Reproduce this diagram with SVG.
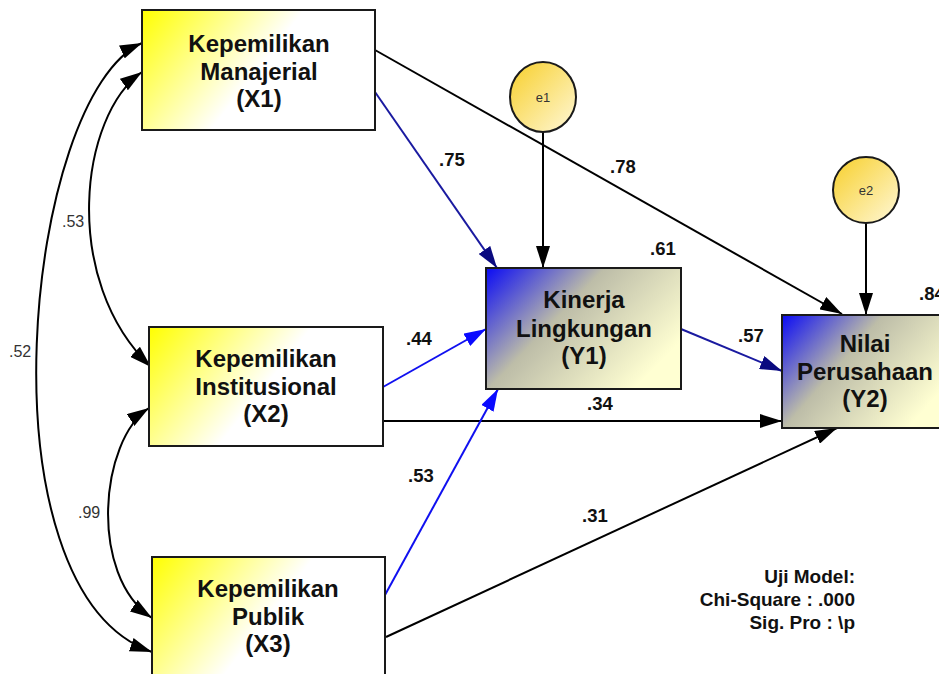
<svg xmlns="http://www.w3.org/2000/svg" width="939" height="674" viewBox="0 0 939 674">
<defs>
<linearGradient id="gx" x1="0" y1="0" x2="1" y2="0.4">
<stop offset="0" stop-color="#FFFF00"/>
<stop offset="0.6" stop-color="#FFFFFF"/>
</linearGradient>
<linearGradient id="gy" x1="0" y1="0" x2="1" y2="0.6">
<stop offset="0" stop-color="#0A0AF5"/>
<stop offset="0.45" stop-color="#BDBDA8"/>
<stop offset="1" stop-color="#FFFFD2"/>
</linearGradient>
<linearGradient id="ge" x1="0" y1="0" x2="1" y2="1">
<stop offset="0" stop-color="#F7CF2A"/>
<stop offset="1" stop-color="#FFF8D8"/>
</linearGradient>
<marker id="ab" viewBox="0 0 22 14" refX="22" refY="7" markerWidth="22" markerHeight="14" markerUnits="userSpaceOnUse" orient="auto-start-reverse">
<path d="M0,0 L22,7 L0,14 z" fill="#000"/>
</marker>
<marker id="au" viewBox="0 0 22 14" refX="22" refY="7" markerWidth="22" markerHeight="14" markerUnits="userSpaceOnUse" orient="auto">
<path d="M0,0 L22,7 L0,14 z" fill="#0A0AFF"/>
</marker>
<marker id="an" viewBox="0 0 22 14" refX="22" refY="7" markerWidth="22" markerHeight="14" markerUnits="userSpaceOnUse" orient="auto">
<path d="M0,0 L22,7 L0,14 z" fill="#0A0A80"/>
</marker>
</defs>
<style>
.box{stroke:#1a1a1a;stroke-width:2}
.t{font-family:"Liberation Sans",Arial,sans-serif;font-weight:bold;font-size:24px;fill:#111;text-anchor:middle}
.l{font-family:"Liberation Sans",Arial,sans-serif;font-weight:bold;font-size:18.5px;fill:#111}
.c{font-family:"Liberation Sans",Arial,sans-serif;font-size:16px;fill:#333}
.e{font-family:"Liberation Sans",Arial,sans-serif;font-size:13px;fill:#333;text-anchor:middle}
.k{fill:none;stroke:#000;stroke-width:2}
.bl{fill:none;stroke:#1010F0;stroke-width:2}
.nv{fill:none;stroke:#1A1AA0;stroke-width:2}
.m{font-family:"Liberation Sans",Arial,sans-serif;font-weight:bold;font-size:19px;fill:#111;text-anchor:end}
</style>

<g id="connectors">
<path class="k" d="M142,72 C80,115 60,280 151,367" marker-start="url(#ab)" marker-end="url(#ab)"/>
<path class="k" d="M142,43 C25,95 -25,590 152,652" marker-start="url(#ab)" marker-end="url(#ab)"/>
<path class="k" d="M149,408 C100,440 88,575 152,618" marker-start="url(#ab)" marker-end="url(#ab)"/>
<line class="k" x1="375" y1="50" x2="842" y2="314" marker-end="url(#ab)"/>
<line class="nv" x1="375" y1="92" x2="497" y2="268" marker-end="url(#an)"/>
<line class="k" x1="543" y1="132" x2="543" y2="268" marker-end="url(#ab)"/>
<line class="k" x1="866" y1="223" x2="866" y2="315" marker-end="url(#ab)"/>
<line class="bl" x1="383" y1="387" x2="486" y2="329" marker-end="url(#au)"/>
<line class="k" x1="383" y1="421" x2="782" y2="421" marker-end="url(#ab)"/>
<line class="bl" x1="385" y1="595" x2="498" y2="389" marker-end="url(#au)"/>
<line class="k" x1="386" y1="637" x2="837" y2="428" marker-end="url(#ab)"/>
<line class="nv" x1="681" y1="329" x2="782" y2="371" marker-end="url(#an)"/>
</g>

<g id="labels">
<text class="c" x="62" y="227">.53</text>
<text class="c" x="9" y="357">.52</text>
<text class="c" x="78" y="518">.99</text>
<text class="l" x="439" y="166">.75</text>
<text class="l" x="610" y="173">.78</text>
<text class="l" x="650" y="255">.61</text>
<text class="l" x="919" y="300">.84</text>
<text class="l" x="406" y="345">.44</text>
<text class="l" x="587" y="410">.34</text>
<text class="l" x="408" y="482">.53</text>
<text class="l" x="738" y="342">.57</text>
<text class="l" x="582" y="522">.31</text>
</g>

<g id="X1">
<rect class="box" x="142" y="10" width="233" height="120" fill="url(#gx)"/>
<text class="t" x="259" y="52">Kepemilikan</text>
<text class="t" x="259" y="80">Manajerial</text>
<text class="t" x="259" y="107">(X1)</text>
</g>
<g id="X2">
<rect class="box" x="149" y="327" width="234" height="119" fill="url(#gx)"/>
<text class="t" x="266" y="367">Kepemilikan</text>
<text class="t" x="266" y="395">Institusional</text>
<text class="t" x="266" y="422">(X2)</text>
</g>
<g id="X3">
<rect class="box" x="152" y="557" width="233" height="122" fill="url(#gx)"/>
<text class="t" x="268" y="597">Kepemilikan</text>
<text class="t" x="268" y="625">Publik</text>
<text class="t" x="268" y="652">(X3)</text>
</g>
<g id="Y1">
<rect class="box" x="486" y="268" width="195" height="121" fill="url(#gy)"/>
<text class="t" x="584" y="308">Kinerja</text>
<text class="t" x="584" y="337">Lingkungan</text>
<text class="t" x="584" y="364">(Y1)</text>
</g>
<g id="Y2">
<rect class="box" x="782" y="315" width="166" height="113" fill="url(#gy)"/>
<text class="t" x="865" y="352">Nilai</text>
<text class="t" x="865" y="380">Perusahaan</text>
<text class="t" x="865" y="407">(Y2)</text>
</g>
<g id="e1">
<ellipse class="box" cx="543" cy="97" rx="33" ry="35" fill="url(#ge)"/>
<text class="e" x="543" y="102">e1</text>
</g>
<g id="e2">
<ellipse class="box" cx="866" cy="190" rx="33" ry="33" fill="url(#ge)"/>
<text class="e" x="866" y="195">e2</text>
</g>
<g id="note">
<text class="m" x="855" y="583">Uji Model:</text>
<text class="m" x="855" y="606">Chi-Square : .000</text>
<text class="m" x="855" y="629">Sig. Pro : \p</text>
</g>
</svg>
